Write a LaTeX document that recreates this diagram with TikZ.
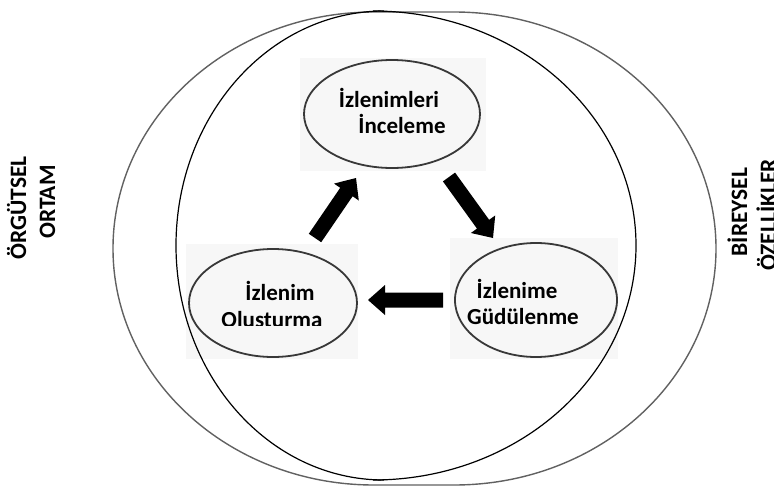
\documentclass[tikz,border=0pt]{standalone}
\usepackage{fontspec}
\setmainfont{Carlito}
\usetikzlibrary{shapes.geometric,calc}

% thick block arrow from a tail coordinate to a tip coordinate
\newcommand{\blockarrow}[2]{%
  \coordinate (hb) at ($(#2)!17pt!(#1)$);
  \fill[arrowfill] ($(#1)!7.5pt!90:(#2)$) -- ($(hb)!7.5pt!90:(#2)$)
    -- ($(hb)!15pt!90:(#2)$) -- (#2) -- ($(hb)!15pt!-90:(#2)$)
    -- ($(hb)!7.5pt!-90:(#2)$) -- ($(#1)!7.5pt!-90:(#2)$) -- cycle;}

\begin{document}
\begin{tikzpicture}[x=1pt,y=-1pt,
  outerarc/.style={draw=black!62, line width=1.4pt},
  innerarc/.style={draw=black, line width=1.2pt},
  stagebox/.style={ellipse, draw=black!78, line width=1.8pt, inner sep=0pt},
  backshade/.style={fill=black!3, draw=none},
  stagetext/.style={font=\bfseries\fontsize{23}{26}\selectfont, inner sep=0pt, anchor=base},
  sidetext/.style={font=\bfseries\fontsize{23.5}{29}\selectfont, inner sep=0pt, anchor=base, rotate=90},
  arrowfill/.style={fill=black}]

\useasboundingbox (0,0) rectangle (774,490);

% faint panels behind the three stages
\fill[backshade] (300,58) rectangle (486,171);
\fill[backshade] (186,244) rectangle (358,359);
\fill[backshade] (450,238) rectangle (618,359);

% outer band (organisational setting / individual traits)
\draw[outerarc] (374,12) arc[start angle=270, end angle=90, x radius=261, y radius=236.5]
  -- (454,485) arc[start angle=90, end angle=-90, x radius=262, y radius=236.5] -- cycle;

% inner ring, drawn as two halves
\draw[innerarc] (384,11) arc[start angle=270, end angle=90, x radius=208, y radius=234.5];
\draw[innerarc] (373,480) arc[start angle=90, end angle=-90, x radius=263, y radius=234.5];

% stages
\node[stagebox, minimum width=176pt, minimum height=108pt] (incele) at (392,114) {};
\node[stagebox, minimum width=168pt, minimum height=108pt] (olustur) at (273,303) {};
\node[stagebox, minimum width=162pt, minimum height=114pt] (gudu) at (536,300) {};

\node[stagetext] (inceleA) at (389,107) {İzlenimleri};
\node[stagetext] (inceleB) at (402,133) {İnceleme};
\node[stagetext] (olusturA) at (280,300) {İzlenim};
\begin{scope}
  \clip (180,230) rectangle (370,325);
  \node[stagetext] (olusturB) at (272,327) {Oluşturma};
\end{scope}
\node[stagetext] (guduA) at (517,298) {İzlenime};
\node[stagetext] (guduB) at (523,324) {Güdülenme};

% side captions
\node[sidetext] (orgA) at (26,208) {ÖRGÜTSEL};
\node[sidetext] (orgB) at (55,202) {ORTAM};
\node[sidetext] (birA) at (747,212) {BİREYSEL};
\node[sidetext] (birB) at (776,215) {ÖZELLİKLER};

% cycle arrows
\coordinate (upS) at (315,238);
\coordinate (upE) at (356,178);
\coordinate (dnS) at (449,177);
\coordinate (dnE) at (493,238);
\coordinate (lfS) at (443,300);
\coordinate (lfE) at (368,300);
\blockarrow{upS}{upE}
\blockarrow{dnS}{dnE}
\blockarrow{lfS}{lfE}
\end{tikzpicture}
\end{document}
